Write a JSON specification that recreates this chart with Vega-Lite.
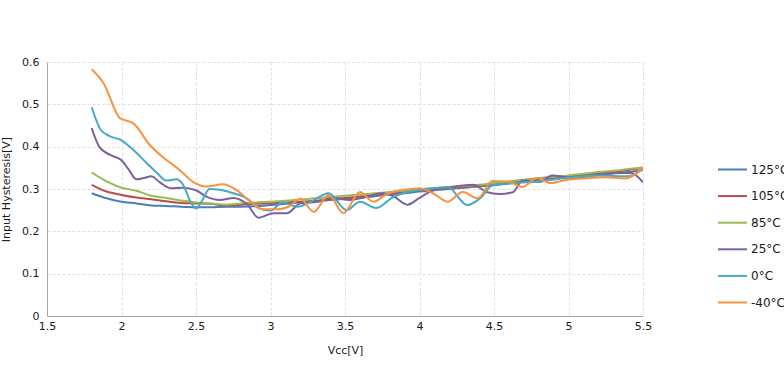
{
  "$schema": "https://vega.github.io/schema/vega-lite/v6.json",
  "width": 596,
  "height": 254,
  "autosize": "none",
  "padding": {"left": 47, "top": 62, "right": 141, "bottom": 60},
  "background": "white",
  "config": {
    "font": "DejaVu Sans",
    "view": {"stroke": null},
    "axis": {"labelFont": "DejaVu Sans", "titleFont": "DejaVu Sans", "labelFontSize": 11, "titleFontSize": 11, "titleFontWeight": "normal", "labelColor": "#1a1a1a", "titleColor": "#1a1a1a", "ticks": false, "domainColor": "#a6a6a6", "gridColor": "#e0e0e0", "gridDash": [3, 2]}
  },
  "data": {"values": [
    {"t":"125°C","x":1.8,"y":0.290},{"t":"125°C","x":1.9,"y":0.278},{"t":"125°C","x":2.0,"y":0.270},{"t":"125°C","x":2.1,"y":0.266},{"t":"125°C","x":2.2,"y":0.261},{"t":"125°C","x":2.3,"y":0.260},{"t":"125°C","x":2.4,"y":0.258},{"t":"125°C","x":2.5,"y":0.257},{"t":"125°C","x":2.6,"y":0.257},{"t":"125°C","x":2.7,"y":0.258},{"t":"125°C","x":2.8,"y":0.258},{"t":"125°C","x":2.9,"y":0.259},{"t":"125°C","x":3.0,"y":0.262},{"t":"125°C","x":3.1,"y":0.265},{"t":"125°C","x":3.2,"y":0.268},{"t":"125°C","x":3.3,"y":0.270},{"t":"125°C","x":3.4,"y":0.274},{"t":"125°C","x":3.5,"y":0.277},{"t":"125°C","x":3.6,"y":0.280},{"t":"125°C","x":3.7,"y":0.283},{"t":"125°C","x":3.8,"y":0.287},{"t":"125°C","x":3.9,"y":0.290},{"t":"125°C","x":4.0,"y":0.294},{"t":"125°C","x":4.1,"y":0.297},{"t":"125°C","x":4.2,"y":0.300},{"t":"125°C","x":4.3,"y":0.303},{"t":"125°C","x":4.4,"y":0.306},{"t":"125°C","x":4.5,"y":0.309},{"t":"125°C","x":4.6,"y":0.313},{"t":"125°C","x":4.7,"y":0.317},{"t":"125°C","x":4.8,"y":0.322},{"t":"125°C","x":4.9,"y":0.326},{"t":"125°C","x":5.0,"y":0.330},{"t":"125°C","x":5.1,"y":0.332},{"t":"125°C","x":5.2,"y":0.335},{"t":"125°C","x":5.3,"y":0.337},{"t":"125°C","x":5.4,"y":0.340},{"t":"125°C","x":5.5,"y":0.345},
    {"t":"105°C","x":1.8,"y":0.310},{"t":"105°C","x":1.9,"y":0.294},{"t":"105°C","x":2.0,"y":0.286},{"t":"105°C","x":2.1,"y":0.280},{"t":"105°C","x":2.2,"y":0.276},{"t":"105°C","x":2.3,"y":0.271},{"t":"105°C","x":2.4,"y":0.267},{"t":"105°C","x":2.5,"y":0.266},{"t":"105°C","x":2.6,"y":0.265},{"t":"105°C","x":2.7,"y":0.261},{"t":"105°C","x":2.8,"y":0.263},{"t":"105°C","x":2.9,"y":0.265},{"t":"105°C","x":3.0,"y":0.266},{"t":"105°C","x":3.1,"y":0.268},{"t":"105°C","x":3.2,"y":0.270},{"t":"105°C","x":3.3,"y":0.272},{"t":"105°C","x":3.4,"y":0.276},{"t":"105°C","x":3.5,"y":0.279},{"t":"105°C","x":3.6,"y":0.282},{"t":"105°C","x":3.7,"y":0.286},{"t":"105°C","x":3.8,"y":0.290},{"t":"105°C","x":3.9,"y":0.293},{"t":"105°C","x":4.0,"y":0.297},{"t":"105°C","x":4.1,"y":0.300},{"t":"105°C","x":4.2,"y":0.302},{"t":"105°C","x":4.3,"y":0.305},{"t":"105°C","x":4.4,"y":0.308},{"t":"105°C","x":4.5,"y":0.312},{"t":"105°C","x":4.6,"y":0.316},{"t":"105°C","x":4.7,"y":0.320},{"t":"105°C","x":4.8,"y":0.325},{"t":"105°C","x":4.9,"y":0.328},{"t":"105°C","x":5.0,"y":0.331},{"t":"105°C","x":5.1,"y":0.334},{"t":"105°C","x":5.2,"y":0.338},{"t":"105°C","x":5.3,"y":0.341},{"t":"105°C","x":5.4,"y":0.345},{"t":"105°C","x":5.5,"y":0.350},
    {"t":"85°C","x":1.8,"y":0.339},{"t":"85°C","x":1.9,"y":0.318},{"t":"85°C","x":2.0,"y":0.303},{"t":"85°C","x":2.1,"y":0.296},{"t":"85°C","x":2.2,"y":0.284},{"t":"85°C","x":2.3,"y":0.279},{"t":"85°C","x":2.4,"y":0.273},{"t":"85°C","x":2.5,"y":0.268},{"t":"85°C","x":2.6,"y":0.266},{"t":"85°C","x":2.7,"y":0.263},{"t":"85°C","x":2.8,"y":0.266},{"t":"85°C","x":2.9,"y":0.268},{"t":"85°C","x":3.0,"y":0.270},{"t":"85°C","x":3.1,"y":0.272},{"t":"85°C","x":3.2,"y":0.275},{"t":"85°C","x":3.3,"y":0.278},{"t":"85°C","x":3.4,"y":0.281},{"t":"85°C","x":3.5,"y":0.284},{"t":"85°C","x":3.6,"y":0.287},{"t":"85°C","x":3.7,"y":0.290},{"t":"85°C","x":3.8,"y":0.293},{"t":"85°C","x":3.9,"y":0.296},{"t":"85°C","x":4.0,"y":0.299},{"t":"85°C","x":4.1,"y":0.302},{"t":"85°C","x":4.2,"y":0.305},{"t":"85°C","x":4.3,"y":0.307},{"t":"85°C","x":4.4,"y":0.310},{"t":"85°C","x":4.5,"y":0.314},{"t":"85°C","x":4.6,"y":0.318},{"t":"85°C","x":4.7,"y":0.322},{"t":"85°C","x":4.8,"y":0.326},{"t":"85°C","x":4.9,"y":0.329},{"t":"85°C","x":5.0,"y":0.332},{"t":"85°C","x":5.1,"y":0.336},{"t":"85°C","x":5.2,"y":0.340},{"t":"85°C","x":5.3,"y":0.343},{"t":"85°C","x":5.4,"y":0.347},{"t":"85°C","x":5.5,"y":0.351},
    {"t":"25°C","x":1.8,"y":0.444},{"t":"25°C","x":1.85,"y":0.400},{"t":"25°C","x":1.92,"y":0.381},{"t":"25°C","x":2.0,"y":0.368},{"t":"25°C","x":2.05,"y":0.345},{"t":"25°C","x":2.1,"y":0.323},{"t":"25°C","x":2.15,"y":0.326},{"t":"25°C","x":2.2,"y":0.330},{"t":"25°C","x":2.26,"y":0.315},{"t":"25°C","x":2.33,"y":0.302},{"t":"25°C","x":2.41,"y":0.303},{"t":"25°C","x":2.5,"y":0.297},{"t":"25°C","x":2.57,"y":0.282},{"t":"25°C","x":2.66,"y":0.274},{"t":"25°C","x":2.75,"y":0.279},{"t":"25°C","x":2.84,"y":0.265},{"t":"25°C","x":2.92,"y":0.232},{"t":"25°C","x":3.02,"y":0.243},{"t":"25°C","x":3.11,"y":0.243},{"t":"25°C","x":3.2,"y":0.266},{"t":"25°C","x":3.31,"y":0.270},{"t":"25°C","x":3.42,"y":0.279},{"t":"25°C","x":3.53,"y":0.274},{"t":"25°C","x":3.64,"y":0.281},{"t":"25°C","x":3.75,"y":0.290},{"t":"25°C","x":3.82,"y":0.284},{"t":"25°C","x":3.92,"y":0.263},{"t":"25°C","x":4.0,"y":0.279},{"t":"25°C","x":4.09,"y":0.297},{"t":"25°C","x":4.22,"y":0.305},{"t":"25°C","x":4.36,"y":0.310},{"t":"25°C","x":4.45,"y":0.293},{"t":"25°C","x":4.54,"y":0.288},{"t":"25°C","x":4.63,"y":0.293},{"t":"25°C","x":4.69,"y":0.320},{"t":"25°C","x":4.81,"y":0.317},{"t":"25°C","x":4.89,"y":0.332},{"t":"25°C","x":5.03,"y":0.326},{"t":"25°C","x":5.2,"y":0.333},{"t":"25°C","x":5.35,"y":0.338},{"t":"25°C","x":5.42,"y":0.338},{"t":"25°C","x":5.5,"y":0.316},
    {"t":"0°C","x":1.8,"y":0.493},{"t":"0°C","x":1.86,"y":0.440},{"t":"0°C","x":1.92,"y":0.425},{"t":"0°C","x":2.0,"y":0.415},{"t":"0°C","x":2.08,"y":0.392},{"t":"0°C","x":2.17,"y":0.361},{"t":"0°C","x":2.24,"y":0.337},{"t":"0°C","x":2.3,"y":0.320},{"t":"0°C","x":2.37,"y":0.323},{"t":"0°C","x":2.42,"y":0.306},{"t":"0°C","x":2.46,"y":0.272},{"t":"0°C","x":2.5,"y":0.254},{"t":"0°C","x":2.54,"y":0.272},{"t":"0°C","x":2.59,"y":0.300},{"t":"0°C","x":2.66,"y":0.298},{"t":"0°C","x":2.75,"y":0.290},{"t":"0°C","x":2.84,"y":0.278},{"t":"0°C","x":2.92,"y":0.255},{"t":"0°C","x":3.0,"y":0.249},{"t":"0°C","x":3.08,"y":0.268},{"t":"0°C","x":3.18,"y":0.258},{"t":"0°C","x":3.27,"y":0.270},{"t":"0°C","x":3.39,"y":0.290},{"t":"0°C","x":3.51,"y":0.250},{"t":"0°C","x":3.6,"y":0.270},{"t":"0°C","x":3.71,"y":0.255},{"t":"0°C","x":3.82,"y":0.280},{"t":"0°C","x":3.9,"y":0.291},{"t":"0°C","x":4.0,"y":0.298},{"t":"0°C","x":4.19,"y":0.304},{"t":"0°C","x":4.32,"y":0.262},{"t":"0°C","x":4.41,"y":0.279},{"t":"0°C","x":4.49,"y":0.309},{"t":"0°C","x":4.63,"y":0.314},{"t":"0°C","x":4.81,"y":0.318},{"t":"0°C","x":4.99,"y":0.326},{"t":"0°C","x":5.2,"y":0.332},{"t":"0°C","x":5.4,"y":0.330},{"t":"0°C","x":5.5,"y":0.347},
    {"t":"-40°C","x":1.8,"y":0.583},{"t":"-40°C","x":1.88,"y":0.550},{"t":"-40°C","x":1.99,"y":0.467},{"t":"-40°C","x":2.08,"y":0.455},{"t":"-40°C","x":2.19,"y":0.404},{"t":"-40°C","x":2.3,"y":0.369},{"t":"-40°C","x":2.39,"y":0.345},{"t":"-40°C","x":2.48,"y":0.317},{"t":"-40°C","x":2.57,"y":0.306},{"t":"-40°C","x":2.68,"y":0.311},{"t":"-40°C","x":2.77,"y":0.298},{"t":"-40°C","x":2.86,"y":0.272},{"t":"-40°C","x":2.95,"y":0.252},{"t":"-40°C","x":3.05,"y":0.252},{"t":"-40°C","x":3.12,"y":0.258},{"t":"-40°C","x":3.2,"y":0.277},{"t":"-40°C","x":3.29,"y":0.246},{"t":"-40°C","x":3.39,"y":0.286},{"t":"-40°C","x":3.49,"y":0.243},{"t":"-40°C","x":3.6,"y":0.293},{"t":"-40°C","x":3.69,"y":0.270},{"t":"-40°C","x":3.78,"y":0.288},{"t":"-40°C","x":3.9,"y":0.298},{"t":"-40°C","x":4.0,"y":0.302},{"t":"-40°C","x":4.09,"y":0.290},{"t":"-40°C","x":4.19,"y":0.270},{"t":"-40°C","x":4.29,"y":0.293},{"t":"-40°C","x":4.39,"y":0.278},{"t":"-40°C","x":4.49,"y":0.319},{"t":"-40°C","x":4.6,"y":0.317},{"t":"-40°C","x":4.69,"y":0.305},{"t":"-40°C","x":4.79,"y":0.326},{"t":"-40°C","x":4.88,"y":0.314},{"t":"-40°C","x":4.99,"y":0.322},{"t":"-40°C","x":5.1,"y":0.325},{"t":"-40°C","x":5.25,"y":0.328},{"t":"-40°C","x":5.38,"y":0.325},{"t":"-40°C","x":5.5,"y":0.350}
  ]},
  "mark": {"type": "line", "interpolate": "monotone", "strokeWidth": 2, "clip": true},
  "encoding": {
    "x": {"field": "x", "type": "quantitative", "title": "Vcc[V]", "scale": {"domain": [1.5, 5.5], "nice": false, "zero": false}, "axis": {"values": [1.5, 2, 2.5, 3, 3.5, 4, 4.5, 5, 5.5], "format": "~g", "labelPadding": 4, "titlePadding": 13, "labelFlush": false}},
    "y": {"field": "y", "type": "quantitative", "title": "Input Hysteresis[V]", "scale": {"domain": [0, 0.6], "nice": false}, "axis": {"values": [0, 0.1, 0.2, 0.3, 0.4, 0.5, 0.6], "format": "~g", "labelPadding": 8, "titlePadding": 10, "labelFlush": false}},
    "color": {"field": "t", "type": "nominal", "sort": null, "scale": {"domain": ["125°C", "105°C", "85°C", "25°C", "0°C", "-40°C"], "range": ["#4A7EBB", "#BE4B48", "#98B954", "#7D60A0", "#46AAC5", "#F69240"]},
      "legend": {"title": null, "orient": "none", "legendX": 670, "legendY": 92, "padding": 0, "symbolType": "stroke", "symbolSize": 841, "symbolStrokeWidth": 2, "labelFontSize": 12, "labelFont": "DejaVu Sans", "labelColor": "#1a1a1a", "labelOffset": 3, "rowPadding": 4.6, "labelLimit": 200}}
  }
}
